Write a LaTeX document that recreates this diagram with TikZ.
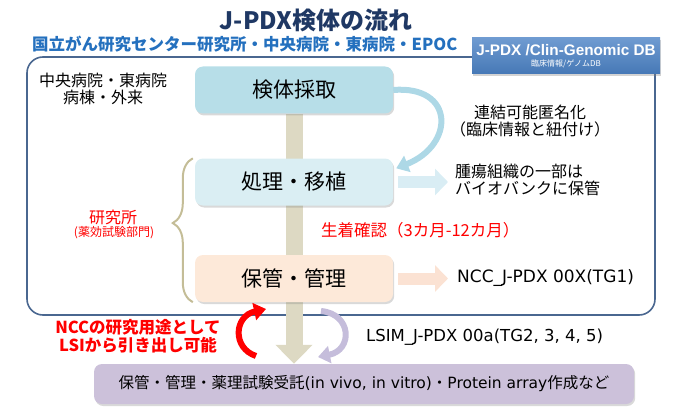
\documentclass[tikz,border=0pt]{standalone}
\usepackage{fontspec}
\setmainfont{Noto Sans CJK JP}
\newfontfamily\arialf{Liberation Sans}
\newfontfamily\verd{DejaVu Sans}
\usetikzlibrary{arrows.meta,shadows,decorations.pathreplacing,calc}
\pgfdeclarelayer{back}
\pgfdeclarelayer{bg}
\pgfsetlayers{back,bg,main}
\definecolor{titlec}{HTML}{1F3864}
\definecolor{subc}{HTML}{2470BE}
\definecolor{framec}{HTML}{4A6790}
\definecolor{dbtop}{HTML}{6F9BD1}
\definecolor{dbbot}{HTML}{4678B6}
\definecolor{boxa}{HTML}{B7DEE8}
\definecolor{boxb}{HTML}{DAEEF3}
\definecolor{boxc}{HTML}{FDE9D9}
\definecolor{boxd}{HTML}{CCC1DA}
\definecolor{barc}{HTML}{DDD9C3}
\definecolor{curvc}{HTML}{ADD8E6}
\definecolor{arra}{HTML}{D9EDF4}
\definecolor{arrb}{HTML}{FBE2D3}
\definecolor{bracec}{HTML}{C4BD97}
\definecolor{redc}{HTML}{FF0000}
\definecolor{lavc}{HTML}{C5BDDB}
\tikzset{
  flowbox/.style={rounded corners=8pt, minimum width=198pt, minimum height=47pt,
    font=\fontsize{21}{25}\selectfont, inner sep=0pt,
    drop shadow={shadow xshift=1.2pt, shadow yshift=-2pt, opacity=0.3}},
  plain/.style={font=\fontsize{16}{17.5}\selectfont, inner sep=0pt},
  blockarrow/.style={line width=12pt, -{Triangle[width=26pt,length=13pt]}},
  curvarrow/.style={line width=6pt, -{Triangle[width=17pt,length=12pt]}},
}
\begin{document}
\begin{tikzpicture}[x=1pt,y=-1pt]
\useasboundingbox (0,0) rectangle (690,409);
% title
\node[font=\fontsize{24}{26}\selectfont\bfseries, text=titlec, inner sep=0pt] (title) at (316,20) {J-PDX検体の流れ};
\node[font=\fontsize{16.5}{18}\selectfont\bfseries, text=subc, anchor=west, inner sep=0pt] (sub) at (32,44) {国立がん研究センター研究所・中央病院・東病院・EPOC};
% frame
\begin{pgfonlayer}{back}
\draw[framec, line width=1.6pt, rounded corners=16pt] (27,57) rectangle (655,315);
\end{pgfonlayer}
% DB box
\node[minimum width=188pt, minimum height=36pt, inner sep=0pt, top color=dbtop, bottom color=dbbot, draw=none,
  drop shadow={shadow xshift=1.2pt, shadow yshift=-2pt, opacity=0.35}, align=center, text=white] (db) at (566,56)
  {{\arialf\bfseries\fontsize{15.3}{16}\selectfont J-PDX /Clin-Genomic DB}\\[-1pt]{\fontsize{8}{9}\selectfont 臨床情報/ゲノムDB}};
% left text
\node[plain, align=center] (hosp) at (103,89) {中央病院・東病院\\病棟・外来};
% boxes
\node[flowbox, fill=boxa] (b1) at (294,90) {検体採取};
\node[flowbox, fill=boxb] (b2) at (294,182) {処理・移植};
\node[flowbox, fill=boxc] (b3) at (294,278.5) {保管・管理};
\node[flowbox, fill=boxd, minimum width=540pt, minimum height=40pt, font=\fontsize{15.5}{17}\selectfont] (b4) at (364,384)
  {保管・管理・薬理試験受託{\verd (in vivo, in vitro)}・{\verd Protein array}作成など};
% vertical bar arrow behind boxes
\begin{pgfonlayer}{bg}
\draw[barc, line width=17pt, -{Triangle[width=36pt,length=19pt]}] (b1.south) -- (b1.south |- b4.north);
\end{pgfonlayer}
% labels right
\node[plain, align=center, font=\fontsize{16}{17}\selectfont] (anon) at (530,121) {連結可能匿名化\\（臨床情報と紐付け）};
\node[plain, align=left, anchor=west] (t2) at (455,180) {腫瘍組織の一部は\\バイオバンクに保管};
\node[plain, anchor=west, font=\verd\fontsize{17}{18}\selectfont] (t3) at (457,278) {NCC\_J-PDX 00X(TG1)};
\node[plain, anchor=west, text=redc, font=\fontsize{16.5}{17}\selectfont] (eng) at (321,230) {生着確認（3カ月-12カ月）};
\node[plain, text=redc, align=center] (lab) at (113,217) {研究所};
\node[plain, text=redc, font=\fontsize{12}{13}\selectfont] (labs) at (114,233) {(薬効試験部門)};
\node[plain, text=redc, align=center, font=\fontsize{16.5}{17.5}\selectfont\bfseries] (ncc) at (138,336) {NCCの研究用途として\\LSIから引き出し可能};
\node[plain, anchor=west, font=\verd\fontsize{16.5}{18}\selectfont] (lsim) at (366,337) {LSIM\_J-PDX 00a(TG2, 3, 4, 5)};
% curved arrow b1 -> b2
\draw[curvc, curvarrow] (b1.east) .. controls (455,85) and (455,145) .. ([xshift=3pt,yshift=-10pt]b2.north east);
% block arrows
\draw[arra, blockarrow] ([xshift=5pt]b2.east) -- ([xshift=-7pt]t2.west |- b2.east);
\draw[arrb, blockarrow] ([xshift=5pt]b3.east) -- ([xshift=-9pt]t3.west |- b3.east);
% brace
\draw[bracec, line width=2pt, decorate, decoration={brace, amplitude=20pt, aspect=0.55}]
  ([xshift=-2pt]b3.south west) -- ([xshift=-2pt]b2.north west);
% red and lavender curved arrows
\coordinate (rs) at (256,356);
\coordinate (re) at (266,309);
\draw[redc, curvarrow] (rs) .. controls (232,348) and (234,316) .. (re);
\coordinate (ls) at (321,311);
\coordinate (le) at (318,357);
\draw[lavc, curvarrow] (ls) .. controls (352,314) and (353,350) .. (le);
\end{tikzpicture}
\end{document}
